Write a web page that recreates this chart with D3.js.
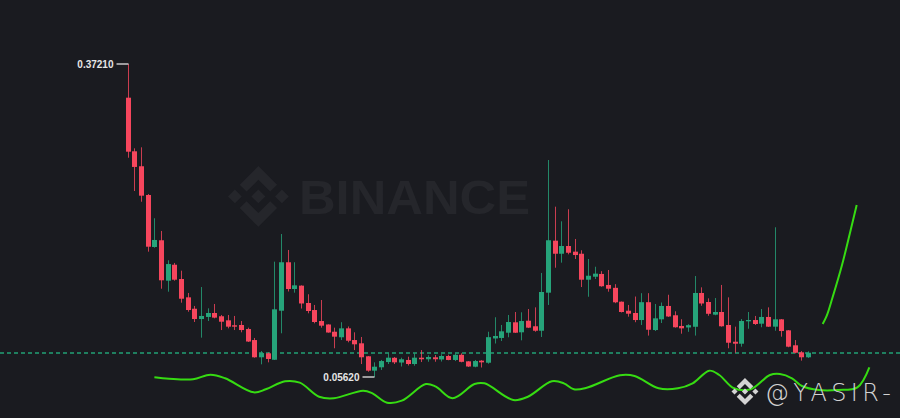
<html><head>
<meta charset="utf-8">
<title>Candles</title>
<script src="https://d3js.org/d3.v7.min.js"></script>
<style>
  body { margin: 0; background: #1a1b20; overflow: hidden; }
  svg { display: block; }
</style>
</head>
<body>
<div id="chart"></div>
<script>

// candle values
var open = [0.3381,0.2840,0.2689,0.2399,0.1874,0.1942,0.1534,0.1695,0.1551,0.1366,
  0.1251,0.1147,0.1168,0.1208,0.1175,0.1134,0.1084,0.1087,0.1046,0.0935,
  0.0761,0.0801,0.0736,0.1231,0.1720,0.1450,0.1484,0.1309,0.1238,0.1127,
  0.1092,0.1019,0.0963,0.1053,0.0935,0.0902,0.0771,0.0626,0.0660,0.0713,
  0.0756,0.0708,0.0734,0.0693,0.0757,0.0741,0.0761,0.0739,0.0774,0.0734,
  0.0786,0.0720,0.0666,0.0727,0.0706,0.0951,0.0956,0.1009,0.1114,0.1013,
  0.1130,0.1074,0.1029,0.1413,0.1938,0.1806,0.1884,0.1827,0.1806,0.1544,
  0.1574,0.1602,0.1491,0.1462,0.1322,0.1231,0.1208,0.1137,0.1317,0.1036,
  0.1144,0.1279,0.1185,0.1077,0.1062,0.1069,0.1410,0.1319,0.1191,0.1218,
  0.1087,0.0918,0.0898,0.1124,0.1137,0.1100,0.1168,0.1070,0.1144,0.1033,
  0.0882,0.0811,0.0761];

var high = [0.3721,0.2870,0.2880,0.2409,0.2164,0.2036,0.1740,0.1713,0.1635,0.1410,
  0.1279,0.1470,0.1255,0.1299,0.1188,0.1188,0.1178,0.1127,0.1060,0.0956,
  0.0824,0.0809,0.1726,0.2005,0.1844,0.1720,0.1487,0.1397,0.1289,0.1339,
  0.1094,0.1060,0.1115,0.1072,0.1013,0.0966,0.0774,0.0710,0.0734,0.0801,
  0.0764,0.0757,0.0767,0.0801,0.0834,0.0781,0.0784,0.0791,0.0787,0.0799,
  0.0801,0.0723,0.0734,0.0732,0.1019,0.1165,0.1087,0.1188,0.1218,0.1215,
  0.1248,0.1265,0.1612,0.2752,0.2281,0.2133,0.2255,0.1955,0.1841,0.1753,
  0.1675,0.1630,0.1642,0.1499,0.1324,0.1289,0.1374,0.1408,0.1408,0.1299,
  0.1314,0.1392,0.1225,0.1145,0.1095,0.1581,0.1467,0.1356,0.1359,0.1491,
  0.1366,0.1070,0.1147,0.1218,0.1178,0.1248,0.1265,0.2073,0.1147,0.1036,
  0.0935,0.0824,0.0821];

var low = [0.2775,0.2439,0.2331,0.1827,0.1867,0.1453,0.1423,0.1534,0.1312,0.1221,
  0.1117,0.0959,0.1127,0.1154,0.1036,0.1053,0.1036,0.1013,0.0915,0.0757,
  0.0690,0.0710,0.0734,0.1003,0.1425,0.1413,0.1253,0.1205,0.1104,0.1060,
  0.1009,0.0852,0.0935,0.0912,0.0834,0.0693,0.0615,0.0562,0.0633,0.0693,
  0.0693,0.0668,0.0678,0.0676,0.0713,0.0716,0.0716,0.0718,0.0731,0.0723,
  0.0710,0.0663,0.0660,0.0658,0.0696,0.0900,0.0925,0.0963,0.1006,0.0932,
  0.1056,0.1019,0.0966,0.1289,0.1665,0.1716,0.1800,0.1753,0.1470,0.1372,
  0.1551,0.1473,0.1423,0.1307,0.1213,0.1171,0.1115,0.1087,0.0980,0.1026,
  0.1107,0.1168,0.1060,0.0999,0.1018,0.0980,0.1281,0.1180,0.1185,0.1070,
  0.0852,0.0807,0.0868,0.1049,0.1087,0.1064,0.1067,0.1029,0.0969,0.0862,
  0.0801,0.0727,0.0754];

var close = [0.2836,0.2682,0.2392,0.1877,0.1945,0.1538,0.1702,0.1544,0.1352,0.1238,
  0.1147,0.1178,0.1208,0.1161,0.1120,0.1070,0.1070,0.1036,0.0920,0.0761,
  0.0804,0.0744,0.1245,0.1720,0.1450,0.1487,0.1304,0.1228,0.1117,0.1080,
  0.1011,0.0969,0.1053,0.0928,0.0892,0.0761,0.0626,0.0666,0.0723,0.0757,
  0.0710,0.0741,0.0693,0.0757,0.0741,0.0764,0.0741,0.0774,0.0734,0.0786,
  0.0715,0.0668,0.0723,0.0710,0.0964,0.0976,0.1023,0.1117,0.1009,0.1127,
  0.1060,0.1029,0.1420,0.1942,0.1806,0.1884,0.1816,0.1793,0.1544,0.1584,
  0.1605,0.1478,0.1453,0.1316,0.1218,0.1201,0.1137,0.1317,0.1039,0.1154,
  0.1279,0.1173,0.1064,0.1053,0.1085,0.1410,0.1304,0.1200,0.1218,0.1074,
  0.0908,0.0898,0.1127,0.1137,0.1097,0.1168,0.1070,0.1144,0.1026,0.0868,
  0.0807,0.0761,0.0807];

// hand drawn green wave under the candles (candle index, price)
var waveIdx = [4.0,6.2,9.8,12.4,14.6,18.9,20.7,23.6,25.8,28.7,30.9,35.3,36.7,38.9,41.1,
  44.7,46.2,48.7,52.0,53.5,57.8,60.0,63.6,65.4,66.9,68.7,73.8,76.0,79.6,82.5,84.7,
  87.2,88.7,90.9,93.4,96.3,97.8,99.6,101.1,103.6,106.5,109.4,111.2];
var wavePrice = [0.0559,0.0545,0.0539,0.0585,0.0549,0.0407,0.0438,0.0519,0.0505,0.0363,0.0347,
  0.0424,0.0397,0.0303,0.0323,0.0491,0.0464,0.0347,0.0491,0.0498,0.0330,0.0363,0.0519,
  0.0498,0.0438,0.0451,0.0579,0.0572,0.0448,0.0448,0.0498,0.0626,0.0582,0.0448,0.0438,
  0.0582,0.0592,0.0549,0.0471,0.0431,0.0431,0.0458,0.0660];

// hand drawn green stroke on the right
var strokeIdx = [104.2,104.8,105.7,107.1,108.4,109.3];
var strokePrice = [0.1097,0.1178,0.1369,0.1692,0.2046,0.2298];

var width = 900, height = 418;
var upColor = "#26a47a", downColor = "#f6465d";
var penColor = "#36dc12";

var svg = d3.select("#chart")
  .append("svg")
    .attr("width", width)
    .attr("height", height);

svg.append("rect")
  .attr("width", width)
  .attr("height", height)
  .attr("fill", "#1a1b20");

// binance logo path (viewbox 126.61)
var logoPath = "M38.73 53.2l24.59-24.58 24.6 24.6 14.3-14.31L63.32 0 24.43 38.9l14.3 14.3zM0 63.31l14.3-14.31 14.31 14.31-14.31 14.3L0 63.31zm38.73 10.11l24.59 24.59 24.6-24.6 14.31 14.29-38.9 38.91-38.9-38.88-.02-.02 14.32-14.29zm59.26-10.11l14.3-14.31 14.31 14.31-14.31 14.3-14.3-14.3zm-20.16-.01L63.32 48.8 52.59 59.53l-1.24 1.23-2.54 2.54-.02.02.02.03 14.51 14.5 14.51-14.52.01-.01-.01-.01z";

// watermark
svg.append("path")
  .attr("d", logoPath)
  .attr("fill", "#25262b")
  .attr("transform", "translate(228,166) scale(0.48)");

svg.append("text")
  .attr("x", 299)
  .attr("y", 214)
  .attr("textLength", 231)
  .attr("lengthAdjust", "spacingAndGlyphs")
  .style("font-family", "Liberation Sans, Arial, sans-serif")
  .style("font-size", "48px")
  .style("font-weight", "bold")
  .attr("fill", "#25262b")
  .text("BINANCE");

var n = open.length;

var x = d3.scaleLinear()
  .domain([0, n - 1])
  .range([127.7, 808]);

var y = d3.scaleLinear()
  .domain([d3.min(low), d3.max(high)])
  .range([377, 64]);

// last price dashed line
svg.append("line")
  .attr("x1", 0)
  .attr("x2", width)
  .attr("y1", Math.round(y(close[n - 1])))
  .attr("y2", Math.round(y(close[n - 1])))
  .attr("stroke", "#1f7f5f")
  .attr("stroke-width", 2)
  .attr("stroke-dasharray", "4,3");

var candles = d3.range(n).map(function(i) {
  return { i: i, o: open[i], h: high[i], l: low[i], c: close[i] };
});

var g = svg.append("g");

g.selectAll(".wick")
  .data(candles)
  .enter().append("line")
    .attr("class", "wick")
    .attr("x1", function(d) { return Math.round(x(d.i)) + 0.5; })
    .attr("x2", function(d) { return Math.round(x(d.i)) + 0.5; })
    .attr("y1", function(d) { return y(d.h); })
    .attr("y2", function(d) { return y(d.l); })
    .attr("stroke", function(d) { return d.c >= d.o ? upColor : downColor; })
    .attr("stroke-opacity", 0.8)
    .attr("stroke-width", 1);

g.selectAll(".body")
  .data(candles)
  .enter().append("rect")
    .attr("class", "body")
    .attr("x", function(d) { return Math.round(x(d.i)) - 2; })
    .attr("width", 5)
    .attr("y", function(d) { return y(Math.max(d.o, d.c)); })
    .attr("height", function(d) { return Math.max(1, Math.abs(y(d.o) - y(d.c))); })
    .attr("fill", function(d) { return d.c >= d.o ? upColor : downColor; });

// high / low labels
var hiIdx = d3.maxIndex(high), loIdx = d3.minIndex(low);

function marker(i, v) {
  var cx = Math.round(x(i)) + 0.5, cy = y(v);
  svg.append("line")
    .attr("x1", cx - 12)
    .attr("x2", cx)
    .attr("y1", cy)
    .attr("y2", cy)
    .attr("stroke", "#c8c8c8")
    .attr("stroke-width", 1.5);
  svg.append("text")
    .attr("x", cx - 15)
    .attr("y", cy)
    .attr("dy", "0.35em")
    .attr("text-anchor", "end")
    .style("font-family", "Liberation Sans, Arial, sans-serif")
    .style("font-size", "10px")
    .style("font-weight", "600")
    .attr("fill", "#e6e6e6")
    .text(v.toFixed(5));
}
marker(hiIdx, high[hiIdx]);
marker(loIdx, low[loIdx]);

// green annotations
var line = d3.line()
  .x(function(d) { return x(d[0]); })
  .y(function(d) { return y(d[1]); })
  .curve(d3.curveCatmullRom);

svg.append("path")
  .datum(d3.zip(waveIdx, wavePrice))
  .attr("fill", "none")
  .attr("stroke", penColor)
  .attr("stroke-width", 2)
  .attr("d", line);

svg.append("path")
  .datum(d3.zip(strokeIdx, strokePrice))
  .attr("fill", "none")
  .attr("stroke", penColor)
  .attr("stroke-width", 2)
  .attr("d", line);

// author tag
svg.append("path")
  .attr("d", logoPath)
  .attr("fill", "#d4d4d4")
  .attr("transform", "translate(731.5,378) scale(0.213)");

svg.append("text")
  .attr("x", 765)
  .attr("y", 401)
  .attr("textLength", 126)
  .attr("lengthAdjust", "spacing")
  .style("font-family", "DejaVu Sans, sans-serif")
  .style("font-size", "24px")
  .style("font-weight", "200")
  .attr("fill", "#d2d2d2")
  .text("@YASIR-");

</script>
</body></html>
